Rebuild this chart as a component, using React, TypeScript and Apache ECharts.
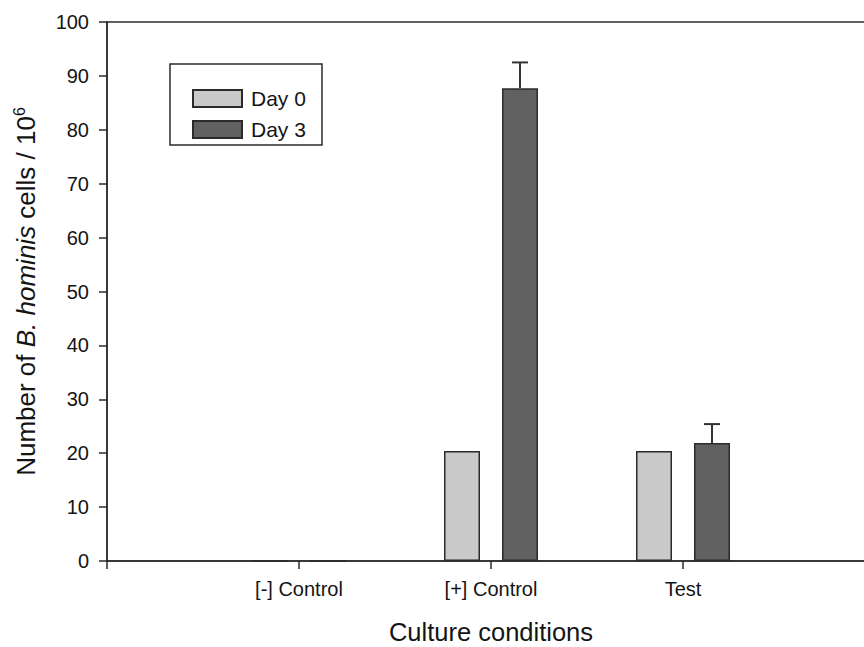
import React, { useEffect, useRef } from "react";
import * as echarts from "echarts";

const categories = ["", "[-] Control", "[+] Control", "Test", ""];
const day0Values = [null, 0, 20.4, 20.4, null];
const day3Values = [null, 0, 87.7, 21.9, null];
// upper error of Day 3 bars: [categoryIndex, mean, error]
const day3Errors = [
  [2, 87.7, 4.8],
  [3, 21.9, 3.5],
];
const yTicks = { min: 0, max: 100, interval: 10 };

const FONT = "Liberation Sans, Arial, Helvetica, sans-serif";
const TEXT = "#141414";
const LINE = "#2b2b2b";
const BAR_W = 36;
const BAR_GAP_PX = 22;

export default function App() {
  const ref = useRef<HTMLDivElement>(null);
  useEffect(() => {
    document.body.style.margin = "0";
    const chart = echarts.init(ref.current!, null, { renderer: "svg" });
    const offset = (BAR_W + BAR_GAP_PX) / 2;
    chart.setOption({
      animation: false,
      backgroundColor: "#ffffff",
      textStyle: { fontFamily: FONT },
      grid: {
        left: 107,
        top: 22,
        width: 768,
        height: 539,
        containLabel: false,
        outerBoundsMode: "none",
        show: true,
        borderColor: LINE,
        borderWidth: 1.5,
        backgroundColor: "transparent",
      },
      legend: {
        orient: "vertical",
        left: 187,
        top: 83,
        itemWidth: 49,
        itemHeight: 17,
        itemGap: 10,
        icon: "rect",
        textStyle: {
          fontFamily: FONT,
          fontSize: 21,
          color: TEXT,
          lineHeight: 17,
          padding: [0, 0, 0, 4],
        },
        data: ["Day 0", "Day 3"],
      },
      graphic: [
        {
          type: "rect",
          z: 0,
          shape: { x: 170, y: 64, width: 152, height: 81 },
          style: { fill: "none", stroke: LINE, lineWidth: 1.5 },
        },
      ],
      xAxis: {
        type: "category",
        data: categories,
        boundaryGap: false,
        name: "Culture conditions",
        nameLocation: "middle",
        nameGap: 58,
        nameTextStyle: { fontFamily: FONT, fontSize: 25.5, color: TEXT },
        axisLine: { lineStyle: { color: LINE, width: 1.5 } },
        axisTick: { show: true, length: 8, lineStyle: { color: LINE, width: 1.5 } },
        axisLabel: { fontFamily: FONT, fontSize: 20, color: TEXT, margin: 18, interval: 0 },
        splitLine: { show: false },
      },
      yAxis: {
        type: "value",
        min: yTicks.min,
        max: yTicks.max,
        interval: yTicks.interval,
        name: "{a|Number of }{i|B. hominis}{a| cells / 10}{s|6}",
        nameLocation: "middle",
        nameGap: 66,
        nameRotate: 90,
        nameTextStyle: {
          fontFamily: FONT,
          fontSize: 26,
          color: TEXT,
          rich: {
            a: { fontFamily: FONT, fontSize: 26, color: TEXT, lineHeight: 30 },
            i: { fontFamily: FONT, fontSize: 26, color: TEXT, fontStyle: "italic", lineHeight: 30 },
            s: { fontFamily: FONT, fontSize: 16, color: TEXT, verticalAlign: "top", lineHeight: 14 },
          },
        },
        axisLine: { show: true, lineStyle: { color: LINE, width: 1.5 } },
        axisTick: { show: true, length: 8, lineStyle: { color: LINE, width: 1.5 } },
        axisLabel: { fontFamily: FONT, fontSize: 20, color: TEXT, margin: 18 },
        splitLine: { show: false },
      },
      series: [
        {
          name: "Day 0",
          type: "bar",
          data: day0Values,
          barWidth: BAR_W,
          barGap: `${(BAR_GAP_PX / BAR_W) * 100}%`,
          itemStyle: { color: "#c9c9c9", borderColor: LINE, borderWidth: 1.5 },
        },
        {
          name: "Day 3",
          type: "bar",
          data: day3Values,
          barWidth: BAR_W,
          itemStyle: { color: "#616161", borderColor: LINE, borderWidth: 1.5 },
        },
        {
          name: "Day 3 error",
          type: "custom",
          data: day3Errors,
          z: 3,
          renderItem: (params: any, api: any) => {
            const x = api.value(0);
            const v = api.value(1);
            const e = api.value(2);
            const p0 = api.coord([x, v]);
            const p1 = api.coord([x, v + e]);
            const cx = p0[0] + offset;
            return {
              type: "group",
              children: [
                {
                  type: "line",
                  shape: { x1: cx, y1: p0[1], x2: cx, y2: p1[1] },
                  style: { stroke: "#333", lineWidth: 2 },
                },
                {
                  type: "line",
                  shape: { x1: cx - 8, y1: p1[1], x2: cx + 8, y2: p1[1] },
                  style: { stroke: "#333", lineWidth: 2 },
                },
              ],
            };
          },
        },
      ],
    });
    return () => chart.dispose();
  }, []);
  return (
    <div style={{ width: 864, height: 647, overflow: "hidden", position: "relative" }}>
      <div ref={ref} style={{ width: 884, height: 647 }} />
    </div>
  );
}
